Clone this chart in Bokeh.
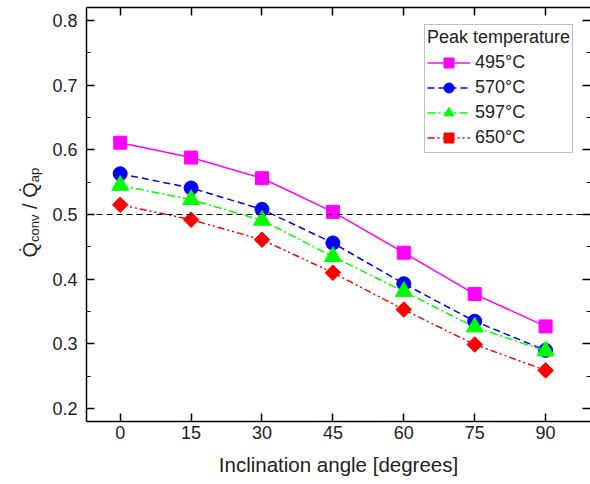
import math
from bokeh.plotting import figure
from bokeh.layouts import row
from bokeh.models import (Range1d, LinearAxis, FixedTicker, Label, Legend,
                          LegendItem, Span)
from bokeh.embed import file_html
from bokeh.resources import INLINE

# ---------------- data ----------------
angles = [0, 15, 30, 45, 60, 75, 90]
t495 = [0.611, 0.588, 0.556, 0.504, 0.441, 0.377, 0.327]
t570 = [0.563, 0.541, 0.508, 0.456, 0.393, 0.335, 0.290]
t597 = [0.545, 0.523, 0.491, 0.435, 0.381, 0.326, 0.289]
t650 = [0.515, 0.492, 0.461, 0.410, 0.353, 0.299, 0.259]
series_labels = ["495°C", "570°C", "597°C", "650°C"]
x_ticks = [0, 15, 30, 45, 60, 75, 90]
y_ticks = [0.2, 0.3, 0.4, 0.5, 0.6, 0.7, 0.8]
y_minor = [0.25, 0.35, 0.45, 0.55, 0.65, 0.75]
threshold = 0.5

FONT = "Liberation Sans"
X0, X1 = -7.13, 99.5
Y0, Y1 = 0.18, 0.82
H = 480
LW = 44                  # width of the strip holding the y-axis title
W = 590 - LW
BL, BT, BB = 86 - LW, 7, 59

p = figure(width=W, height=H,
           x_range=Range1d(X0, X1), y_range=Range1d(Y0, Y1),
           output_backend="svg", toolbar_location=None,
           min_border_left=BL, min_border_right=0, min_border_top=BT,
           min_border_bottom=BB,
           x_axis_label="Inclination angle [degrees]")
p.outline_line_color = None
p.grid.visible = False
p.background_fill_color = "white"
p.border_fill_color = "white"

xt = FixedTicker(ticks=x_ticks, minor_ticks=[])
yt = FixedTicker(ticks=y_ticks, minor_ticks=y_minor)

xa = p.xaxis[0]
xa.ticker = xt
xa.major_tick_in = 8
xa.major_tick_out = 0
xa.minor_tick_in = 0
xa.minor_tick_out = 0
xa.major_label_standoff = 4
xa.axis_label_standoff = 11
xa.major_label_text_font = FONT
xa.major_label_text_font_size = "18px"
xa.major_label_text_color = "#222222"
xa.axis_label_text_font = FONT
xa.axis_label_text_font_size = "20.5px"
xa.axis_label_text_font_style = "normal"
xa.axis_label_text_color = "#222222"
xa.axis_line_width = 1.5
xa.major_tick_line_width = 1.5

ya = p.yaxis[0]
ya.ticker = yt
ya.major_tick_in = 8
ya.major_tick_out = 0
ya.minor_tick_in = 4
ya.minor_tick_out = 0
ya.major_label_standoff = 9
ya.major_label_text_font = FONT
ya.major_label_text_font_size = "18px"
ya.major_label_text_color = "#222222"
ya.axis_line_width = 1.5
ya.major_tick_line_width = 1.5
ya.minor_tick_line_width = 1.2

top = LinearAxis(ticker=FixedTicker(ticks=x_ticks, minor_ticks=[]),
                 major_tick_in=8, major_tick_out=0, minor_tick_in=0, minor_tick_out=0,
                 major_label_text_font_size="0px", major_label_text_color=None,
                 major_label_standoff=0,
                 axis_line_width=1.5, major_tick_line_width=1.5)
p.add_layout(top, "above")
right = LinearAxis(ticker=FixedTicker(ticks=y_ticks, minor_ticks=y_minor),
                   major_tick_in=8, major_tick_out=0, minor_tick_in=4, minor_tick_out=0,
                   major_label_text_font_size="0px", major_label_text_color=None,
                   major_label_standoff=0,
                   axis_line_color=None, major_tick_line_width=1.5,
                   minor_tick_line_width=1.2)
p.add_layout(right, "right")

p.add_layout(Span(location=threshold, dimension="width", line_color="black",
                  line_dash="6 4", line_width=1))

specs = [
    (t495, "#FF00FF", None, "square", 13, 0.0),
    (t570, "#0000FF", "7 4", "circle", 14, 0.0),
    (t597, "#00FF00", "8 3 2 3", "triangle", 17, 0.0),
    (t650, "#FF0000", "7 3 2 3 2 3", "square", 11, math.pi / 4),
]
items = []
for (vals, col, dash, mk, sz, ang), lab in zip(specs, series_labels):
    kw = dict(line_color=col, line_width=1.5)
    if dash:
        kw["line_dash"] = dash
    lr = p.line(angles, vals, **kw)
    sr = p.scatter(angles, vals, marker=mk, size=sz, angle=ang,
                   fill_color=col, line_color=col)
    items.append(LegendItem(label=lab, renderers=[lr, sr]))

legend = Legend(items=items, location=(338, 268), title="Peak temperature",
                title_text_font=FONT, title_text_font_size="18px",
                title_text_font_style="normal", title_text_color="#222222",
                title_standoff=2,
                label_text_font=FONT, label_text_font_size="18px",
                label_text_color="#222222",
                glyph_width=43, glyph_height=25, label_height=21,
                label_standoff=5, spacing=0, padding=2, margin=0,
                border_line_color="#808080", border_line_width=1.5,
                background_fill_color="white", background_fill_alpha=1.0)
p.add_layout(legend)

# ---- strip on the left carrying the y-axis title with subscripts ----
q = figure(width=LW, height=H, x_range=Range1d(0, LW), y_range=Range1d(0, H),
           output_backend="svg", toolbar_location=None,
           x_axis_location=None, y_axis_location=None,
           min_border_left=0, min_border_right=0, min_border_top=0,
           min_border_bottom=0)
q.outline_line_color = None
q.grid.visible = False
q.background_fill_color = "white"
q.border_fill_color = "white"
if "frame_align" in q.properties():
    q.frame_align = False
    p.frame_align = False

# (text, font px, baseline shift px, advance in em incl. following gap)
pieces = [("Q\u0307", 20, 0, 0.778), ("conv", 13, 5, 2.112 + 0.43),
          ("/", 20, 0, 0.278 + 0.278), ("Q\u0307", 20, 0, 0.778),
          ("ap", 13, 5, 1.112)]
BASE_X = 29
off = 0.0
for txt, fs, shift, adv in pieces:
    q.add_layout(Label(x=BASE_X + shift, y=H - 257 + off,
                       x_units="screen", y_units="screen",
                       text=txt, angle=math.pi / 2, text_font=FONT,
                       text_font_size=f"{fs}px", text_color="#222222",
                       text_align="left", text_baseline="alphabetic"))
    off += adv * fs

layout = row(q, p, spacing=0)
open("out.html", "w").write(file_html(layout, INLINE))
